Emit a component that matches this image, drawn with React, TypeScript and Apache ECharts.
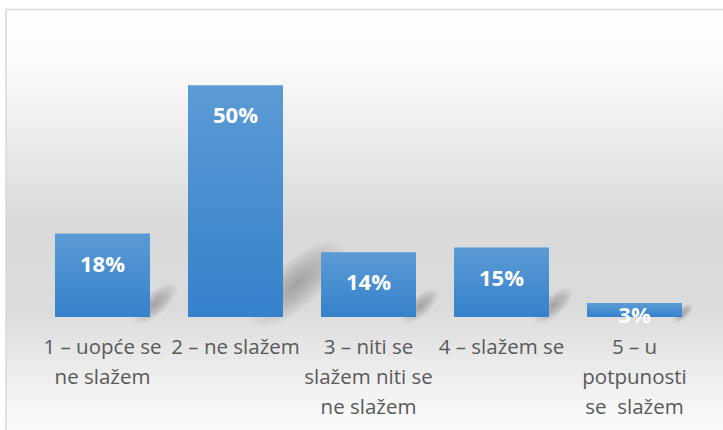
import React, { useEffect, useRef } from "react";
import * as echarts from "echarts";

const categories = [
  "1 – uopće se\nne slažem",
  "2 – ne slažem",
  "3 – niti se\nslažem niti se\nne slažem",
  "4 – slažem se",
  "5 – u\npotpunosti\nse  slažem",
];
const values = [18, 50, 14, 15, 3];

export default function App() {
  const ref = useRef<HTMLDivElement>(null);
  useEffect(() => {
    if (!ref.current) return;
    const chart = echarts.init(ref.current, null, { renderer: "svg" });
    const font = "'Open Sans', 'DejaVu Sans', sans-serif";
    chart.setOption({
      animation: false,
      graphic: [
        {
          type: "rect",
          z: -10,
          silent: true,
          shape: { x: 6, y: 9.5, width: 730, height: 440 },
          style: {
            stroke: "#d9d9d9",
            lineWidth: 1.5,
            fill: new echarts.graphic.LinearGradient(0, 0, 0, 1, [
              { offset: 0, color: "#ffffff" },
              { offset: 0.12, color: "#fbfbfb" },
              { offset: 0.26, color: "#efefef" },
              { offset: 0.48, color: "#dadada" },
              { offset: 0.68, color: "#dbdbdb" },
              { offset: 0.8, color: "#eaeaea" },
              { offset: 0.92, color: "#f8f8f8" },
              { offset: 1, color: "#fefefe" },
            ]),
          },
        },
      ],
      grid: { left: 36, right: 22, top: 39, bottom: 113, outerBoundsMode: "none" },
      xAxis: {
        type: "category",
        data: categories,
        axisLine: { show: false },
        axisTick: { show: false },
        axisLabel: {
          interval: 0,
          color: "#595959",
          fontFamily: font,
          fontSize: 20.5,
          lineHeight: 30,
          margin: 14,
        },
      },
      yAxis: {
        type: "value",
        min: 0,
        max: 60,
        show: false,
        splitLine: { show: false },
      },
      series: [
        {
          type: "custom",
          z: 1,
          silent: true,
          data: values.map((v, i) => [i, v]),
          renderItem: (params: any, api: any) => {
            const idx = api.value(0);
            const val = api.value(1);
            const base = api.coord([idx, 0]);
            const top = api.coord([idx, val]);
            const h = base[1] - top[1];
            const xr = base[0] + 47.5;
            const dx = h * 0.3;
            const dy = h * 0.27;
            const L = Math.sqrt(dx * dx + dy * dy);
            const rx = L * 0.55 + 10;
            const ry = L * 0.2 + 5;
            const cx = xr + dx * 0.2;
            const cy = base[1] - dy * 0.5 - 2;
            return {
              type: "ellipse",
              x: cx,
              y: cy,
              rotation: Math.atan2(dy, dx),
              scaleX: 1,
              shape: { cx: 0, cy: 0, rx, ry },
              style: {
                fill: new echarts.graphic.RadialGradient(0.5, 0.5, 0.5, [
                  { offset: 0, color: "rgba(0,0,0,0.26)" },
                  { offset: 0.55, color: "rgba(0,0,0,0.14)" },
                  { offset: 1, color: "rgba(0,0,0,0)" },
                ]),
              },
            };
          },
        },
        {
          type: "bar",
          z: 5,
          barWidth: 95,
          data: values.map((v, i) =>
            i === 4
              ? { value: v, label: { distance: 0 } }
              : { value: v }
          ),
          itemStyle: {
            color: new echarts.graphic.LinearGradient(0, 0, 0, 1, [
              { offset: 0, color: "#5b9bd5" },
              { offset: 1, color: "#3581cb" },
            ]),
          },
          label: {
            show: true,
            position: "insideTop",
            distance: 18,
            color: "#ffffff",
            fontFamily: font,
            fontWeight: "bold",
            fontSize: 22,
            formatter: "{c}%",
          },
        },
      ],
    });
    return () => chart.dispose();
  }, []);
  return (
    <div
      ref={ref}
      style={{ position: "absolute", left: 0, top: 0, width: 723, height: 430 }}
    />
  );
}
